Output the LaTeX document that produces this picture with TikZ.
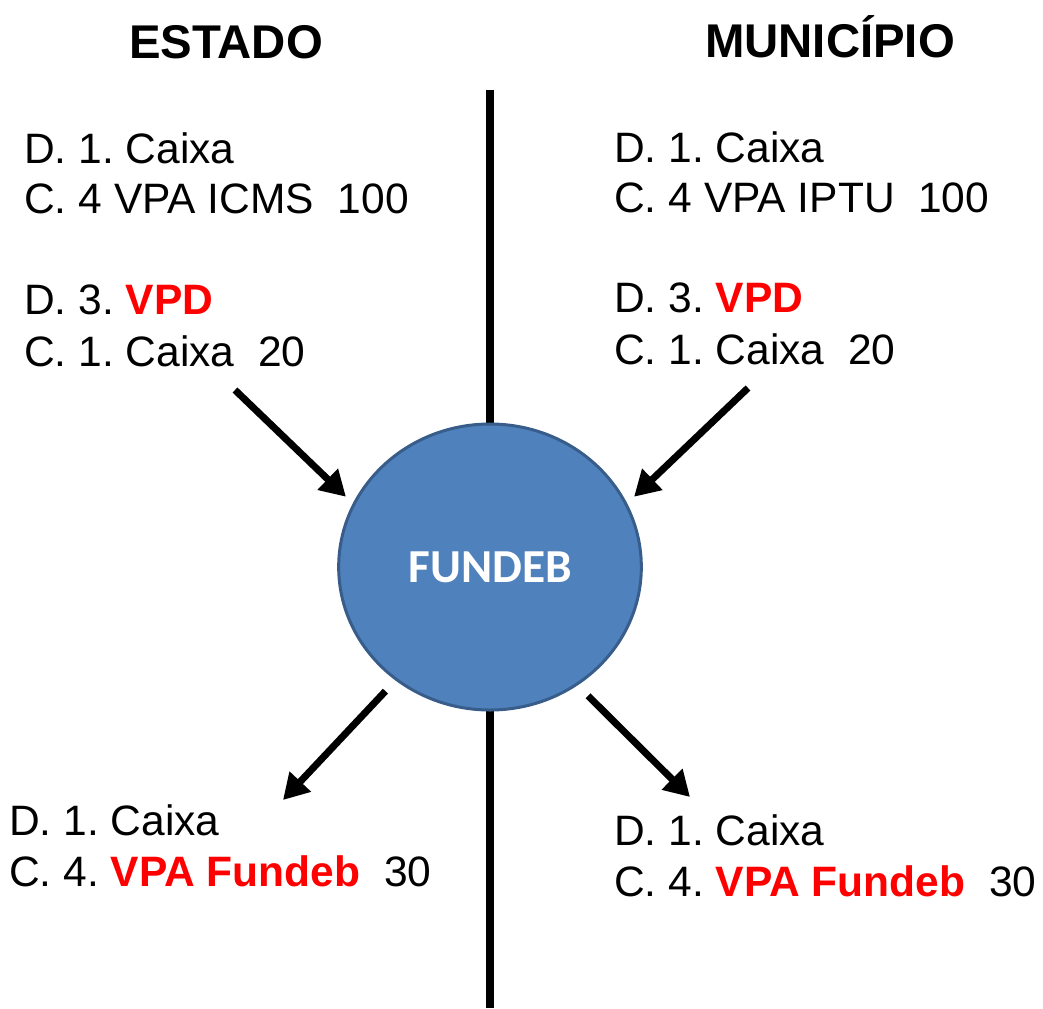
\documentclass[tikz,border=0pt]{standalone}
\usepackage{fontspec}
\setmainfont{Liberation Sans}
\newfontfamily\calib{Carlito}
\usetikzlibrary{shapes.geometric,arrows.meta}
\definecolor{fundblue}{HTML}{4F81BD}
\definecolor{fundedge}{HTML}{385D8A}
\definecolor{vpdred}{HTML}{FF0000}
\frenchspacing
\tikzset{
    lanc/.style = {anchor=base west, inner sep=0pt, font=\fontsize{31.9}{36}\selectfont},
    titulo/.style = {anchor=base, inner sep=0pt, font=\fontsize{35.5}{40}\selectfont\bfseries},
    seta/.style = {line width=5.25pt, -{Triangle[length=19pt, width=21pt]}},
}
\newcommand{\destaque}[1]{\textcolor{vpdred}{\bfseries #1}}
\begin{document}
\begin{tikzpicture}[x=0.75pt, y=-0.75pt]
    \useasboundingbox (0, 0) rectangle (1043, 1008);
    % divisoria
    \draw [line width=6pt] (490, 90) -- (490, 1008);
    \node [ellipse, fill=fundblue, draw=fundedge, line width=2.25pt,
        minimum width=227pt, minimum height=214.5pt, outer sep=8pt,
        text=white, font=\calib\fontsize{35.5}{40}\selectfont\bfseries] (fund) at (490, 567) {FUNDEB};
    \node [titulo] (estado) at (226, 58) {ESTADO};
    \node [titulo] (munic) at (830, 57) {MUNICÍPIO};
    % estado
    \node [lanc] (estD1) at (24, 163) {D. 1. Caixa};
    \node [lanc] (estC1) at (24, 213) {C. 4 VPA ICMS\ \ 100};
    \node [lanc] (estD2) at (24, 314) {D. 3. \destaque{VPD}};
    \node [lanc] (estC2) at (24, 366) {C. 1. Caixa\ \ 20};
    \node [lanc] (estD3) at (9, 835) {D. 1. Caixa};
    \node [lanc] (estC3) at (9, 886) {C. 4. \destaque{VPA Fundeb}\ \ 30};
    % municipio
    \node [lanc] (munD1) at (614, 162) {D. 1. Caixa};
    \node [lanc] (munC1) at (614, 212) {C. 4 VPA IPTU\ \ 100};
    \node [lanc] (munD2) at (614, 312) {D. 3. \destaque{VPD}};
    \node [lanc] (munC2) at (614, 364) {C. 1. Caixa\ \ 20};
    \node [lanc] (munD3) at (614, 845) {D. 1. Caixa};
    \node [lanc] (munC3) at (614, 896) {C. 4. \destaque{VPA Fundeb}\ \ 30};
    % setas
    \coordinate (estIn) at (235, 390);
    \coordinate (munIn) at (748, 388);
    \coordinate (estOut) at (283, 800);
    \coordinate (munOut) at (690, 797);
    \draw [seta] (estIn) -- (fund.154);
    \draw [seta] (munIn) -- (fund.26);
    \draw [seta, shorten <=4pt] (fund.230) -- (estOut);
    \draw [seta, shorten <=4pt] (fund.307) -- (munOut);
\end{tikzpicture}
\end{document}
